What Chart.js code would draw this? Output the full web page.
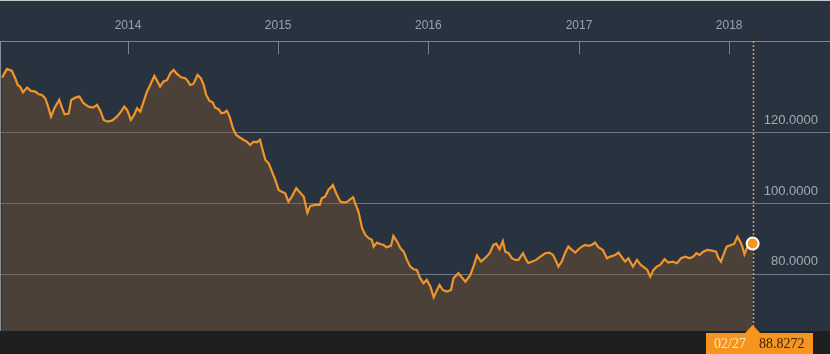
<!DOCTYPE html>
<html>
<head>
<meta charset="utf-8">
<script src="https://cdn.jsdelivr.net/npm/chart.js@4.4.1/dist/chart.umd.min.js"></script>
<style>
  html, body { margin: 0; padding: 0; background: #283240; }
  #wrap { width: 830px; height: 354px; position: relative; }
  canvas { display: block; }
</style>
</head>
<body>
<div id="wrap"><canvas id="c" width="830" height="354"></canvas></div>
<script>
// ---- data ----
const dates = [
  "2013-03-01","2013-03-13","2013-03-25","2013-04-02","2013-04-08","2013-04-14","2013-04-21","2013-05-01","2013-05-10","2013-05-21",
  "2013-05-29","2013-06-06","2013-06-14","2013-06-21","2013-06-28","2013-07-06","2013-07-18","2013-07-25","2013-07-31","2013-08-10",
  "2013-08-16","2013-08-26","2013-09-05","2013-09-15","2013-09-27","2013-10-08","2013-10-18","2013-10-26","2013-11-03","2013-11-12",
  "2013-11-23","2013-12-05","2013-12-15","2013-12-23","2013-12-30","2014-01-08","2014-01-16","2014-01-23","2014-01-31","2014-02-08",
  "2014-02-16","2014-02-24","2014-03-06","2014-03-14","2014-03-20","2014-03-28","2014-04-06","2014-04-14","2014-04-22","2014-04-30",
  "2014-05-10","2014-05-20","2014-05-26","2014-06-01","2014-06-09","2014-06-19","2014-06-27","2014-07-04","2014-07-10","2014-07-18",
  "2014-07-26","2014-08-01","2014-08-09","2014-08-16","2014-08-23","2014-08-29","2014-09-05","2014-09-13","2014-09-21","2014-09-29",
  "2014-10-09","2014-10-17","2014-10-25","2014-11-02","2014-11-10","2014-11-18","2014-11-23","2014-12-01","2014-12-09","2014-12-17",
  "2014-12-25","2015-01-02","2015-01-10","2015-01-18","2015-01-26","2015-02-03","2015-02-14","2015-02-24","2015-03-04","2015-03-13",
  "2015-03-20","2015-04-01","2015-04-12","2015-04-17","2015-04-25","2015-05-03","2015-05-14","2015-05-22","2015-06-01","2015-06-11",
  "2015-06-19","2015-06-25","2015-07-02","2015-07-07","2015-07-15","2015-07-24","2015-08-01","2015-08-09","2015-08-17","2015-08-21",
  "2015-08-29","2015-09-06","2015-09-14","2015-09-21","2015-09-26","2015-10-02","2015-10-08","2015-10-17","2015-10-25","2015-11-02",
  "2015-11-10","2015-11-18","2015-11-26","2015-12-04","2015-12-12","2015-12-20","2015-12-28","2016-01-06","2016-01-14","2016-01-22",
  "2016-01-28","2016-02-05","2016-02-15","2016-02-25","2016-03-02","2016-03-14","2016-03-31","2016-04-12","2016-04-21","2016-04-28",
  "2016-05-08","2016-05-18","2016-05-29","2016-06-07","2016-06-14","2016-06-22","2016-06-30","2016-07-06","2016-07-14","2016-07-22",
  "2016-07-30","2016-08-07","2016-08-18","2016-08-26","2016-08-31","2016-09-09","2016-09-19","2016-09-29","2016-10-11","2016-10-21",
  "2016-10-30","2016-11-07","2016-11-12","2016-11-20","2016-11-28","2016-12-06","2016-12-15","2016-12-23","2016-12-31","2017-01-08",
  "2017-01-16","2017-01-24","2017-02-01","2017-02-09","2017-02-17","2017-02-28","2017-03-10","2017-03-18","2017-03-30","2017-04-07",
  "2017-04-15","2017-04-23","2017-05-01","2017-05-12","2017-05-22","2017-05-31","2017-06-11","2017-06-16","2017-06-23","2017-07-01",
  "2017-07-09","2017-07-17","2017-07-28","2017-08-06","2017-08-17","2017-08-27","2017-09-06","2017-09-16","2017-09-27","2017-10-06",
  "2017-10-13","2017-10-21","2017-10-30","2017-11-09","2017-11-20","2017-11-30","2017-12-06","2017-12-12","2017-12-18","2017-12-26",
  "2018-01-05","2018-01-13","2018-01-21","2018-01-28","2018-02-02","2018-02-07","2018-02-13","2018-02-21","2018-02-27"
];
const values = [
  135.58,138.03,137.46,135.41,133.52,133.04,131.46,132.76,131.83,131.63,
  130.90,130.70,129.77,127.41,124.59,126.96,129.30,126.96,125.27,125.44,
  129.30,129.94,130.23,128.37,127.41,127.13,127.89,126.20,123.66,123.18,
  123.46,124.59,126.00,127.41,126.48,123.66,125.07,126.96,126.00,128.82,
  131.63,133.52,136.06,134.45,133.04,134.45,134.93,136.82,137.75,136.62,
  135.69,135.41,134.73,133.52,133.80,136.34,135.41,133.52,130.70,129.10,
  128.54,127.13,126.68,125.55,125.72,126.28,124.59,121.32,119.44,118.79,
  118.03,117.55,116.62,117.55,117.38,118.03,115.69,112.39,111.46,109.10,
  106.76,103.94,103.46,103.01,100.65,102.06,104.42,103.10,102.06,97.55,
  99.44,99.72,99.72,101.61,102.06,103.94,105.35,103.01,100.65,100.37,
  100.65,101.32,101.89,100.20,97.83,93.16,91.27,90.34,89.86,87.97,
  89.10,88.73,88.45,87.80,87.97,88.17,90.99,89.38,87.52,86.56,
  84.23,82.34,81.61,81.41,79.07,77.66,78.59,76.70,73.66,75.77,
  77.18,75.77,75.30,75.77,79.07,80.48,78.11,80.00,82.82,85.49,
  83.75,84.79,86.11,88.45,88.82,87.24,89.52,86.56,86.11,84.70,
  84.23,84.23,86.11,84.23,83.30,83.75,84.23,85.16,86.11,86.28,
  85.63,83.75,82.34,83.75,86.11,87.97,87.04,86.28,87.24,87.97,
  88.45,88.17,88.45,89.10,87.80,87.04,84.70,85.16,85.63,86.28,
  84.99,83.75,84.70,82.34,84.23,82.82,81.89,81.41,79.52,81.41,
  82.34,82.82,84.42,83.46,83.75,83.30,84.70,85.16,84.70,85.16,
  86.11,85.63,86.56,87.04,86.85,86.56,84.70,83.75,85.63,87.97,
  88.45,88.73,90.79,89.38,87.97,85.83,87.52,88.45,88.8272
];
const yearTicks = [2014, 2015, 2016, 2017, 2018];
const priceTicks = [80, 100, 120];
const axisStart = "2013-02-24";
const axisEnd = "2018-09-03";

function ts(s) {
  const p = s.split("-").map(Number);
  return Date.UTC(p[0], p[1] - 1, p[2]);
}
const points = dates.map((d, i) => ({ x: ts(d), y: values[i] }));

const NAVY = "#29333f";
const ORANGE = "#f0952b";

const backPlugin = {
  id: "back",
  beforeDraw(chart) {
    const ctx = chart.ctx;
    ctx.save();
    ctx.fillStyle = NAVY;
    ctx.fillRect(0, 0, chart.width, chart.height);
    ctx.fillStyle = "#1e1f21";
    ctx.fillRect(0, chart.chartArea.bottom, chart.width, chart.height - chart.chartArea.bottom);
    ctx.restore();
  }
};

const overlayPlugin = {
  id: "overlay",
  afterDraw(chart) {
    const ctx = chart.ctx;
    const xs = chart.scales.x, ys = chart.scales.y;
    const ca = chart.chartArea;
    ctx.save();
    // inward tick marks on the top axis
    ctx.strokeStyle = "#7b828a";
    ctx.lineWidth = 1;
    xs.ticks.forEach(t => {
      const px = Math.round(xs.getPixelForValue(t.value)) + 0.5;
      ctx.beginPath();
      ctx.moveTo(px, ca.top);
      ctx.lineTo(px, ca.top + 13);
      ctx.stroke();
    });
    // y labels (right, inside the plot, above their grid lines)
    ctx.font = "13px 'Liberation Sans', Arial, sans-serif";
    ctx.fillStyle = "#a3a9b0";
    ctx.textAlign = "right";
    ctx.textBaseline = "middle";
    ys.ticks.forEach(t => {
      const py = ys.getPixelForValue(t.value);
      ctx.fillText(Number(t.value).toFixed(4), ca.right - 12, py - 13);
    });
    // top/left thin frame
    ctx.lineWidth = 1;
    ctx.strokeStyle = "#c8c8c8";
    ctx.beginPath(); ctx.moveTo(0, 0.5); ctx.lineTo(chart.width, 0.5); ctx.stroke();
    ctx.strokeStyle = "#8b8f94";
    ctx.beginPath(); ctx.moveTo(0.5, ca.top); ctx.lineTo(0.5, ca.bottom); ctx.stroke();

    // last point
    const last = points[points.length - 1];
    const lx = xs.getPixelForValue(last.x);
    const ly = ys.getPixelForValue(last.y);
    // dotted crosshair
    ctx.strokeStyle = "#c9a44c";
    ctx.lineWidth = 1.5;
    ctx.setLineDash([2, 2]);
    ctx.beginPath();
    ctx.moveTo(Math.round(lx) + 0.5, ca.top);
    ctx.lineTo(Math.round(lx) + 0.5, ca.bottom);
    ctx.stroke();
    ctx.setLineDash([]);
    // dot
    ctx.beginPath();
    ctx.arc(lx, ly, 6, 0, Math.PI * 2);
    ctx.fillStyle = "#f7941d";
    ctx.fill();
    ctx.lineWidth = 2;
    ctx.strokeStyle = "#ffffff";
    ctx.stroke();

    // bottom label box
    const bx = Math.round(lx) - 47, bw = 107;
    const by = ca.bottom + 2, bh = chart.height - by;
    ctx.fillStyle = "#f7941d";
    ctx.fillRect(bx, by, bw, bh);
    ctx.beginPath();
    ctx.moveTo(lx - 8, by + 0.5);
    ctx.lineTo(lx, by - 8);
    ctx.lineTo(lx + 8, by + 0.5);
    ctx.closePath();
    ctx.fill();
    const md = dates[dates.length - 1].split("-");
    ctx.font = "14px 'Liberation Serif', 'DejaVu Serif', serif";
    ctx.textBaseline = "middle";
    ctx.textAlign = "left";
    ctx.fillStyle = "#fde6c4";
    ctx.fillText(md[1] + "/" + md[2], bx + 8, by + bh / 2 + 1);
    ctx.fillStyle = "#3b2408";
    ctx.fillText(last.y.toFixed(4), bx + 53, by + bh / 2 + 1);
    ctx.restore();
  }
};

new Chart(document.getElementById("c").getContext("2d"), {
  type: "line",
  data: {
    datasets: [{
      data: points,
      borderColor: ORANGE,
      borderWidth: 2.2,
      backgroundColor: "rgba(125,85,47,0.42)",
      fill: "start",
      pointRadius: 0,
      tension: 0
    }]
  },
  options: {
    responsive: false,
    animation: false,
    devicePixelRatio: 1,
    layout: { padding: { left: 0, right: 0, top: 0, bottom: 23 } },
    plugins: { legend: { display: false }, tooltip: { enabled: false } },
    scales: {
      x: {
        type: "linear",
        position: "top",
        min: ts(axisStart),
        max: ts(axisEnd),
        afterBuildTicks: s => { s.ticks = yearTicks.map(y => ({ value: Date.UTC(y, 0, 1) })); },
        afterFit: s => { s.height = 41; },
        ticks: {
          color: "#9ba2aa",
          font: { family: "'Liberation Sans', Arial, sans-serif", size: 12 },
          padding: 8,
          maxRotation: 0,
          autoSkip: false,
          callback: v => String(new Date(v).getUTCFullYear())
        },
        grid: { display: false, drawTicks: false },
        border: { display: true, color: "#7b828a", width: 1 }
      },
      y: {
        position: "right",
        min: 64.2,
        max: 145.9,
        afterBuildTicks: s => { s.ticks = priceTicks.map(v => ({ value: v })); },
        afterFit: s => { s.width = 0; },
        ticks: { display: false },
        grid: { color: "#71787f", lineWidth: 1, drawTicks: false },
        border: { display: false }
      }
    }
  },
  plugins: [backPlugin, overlayPlugin]
});
</script>
</body>
</html>
